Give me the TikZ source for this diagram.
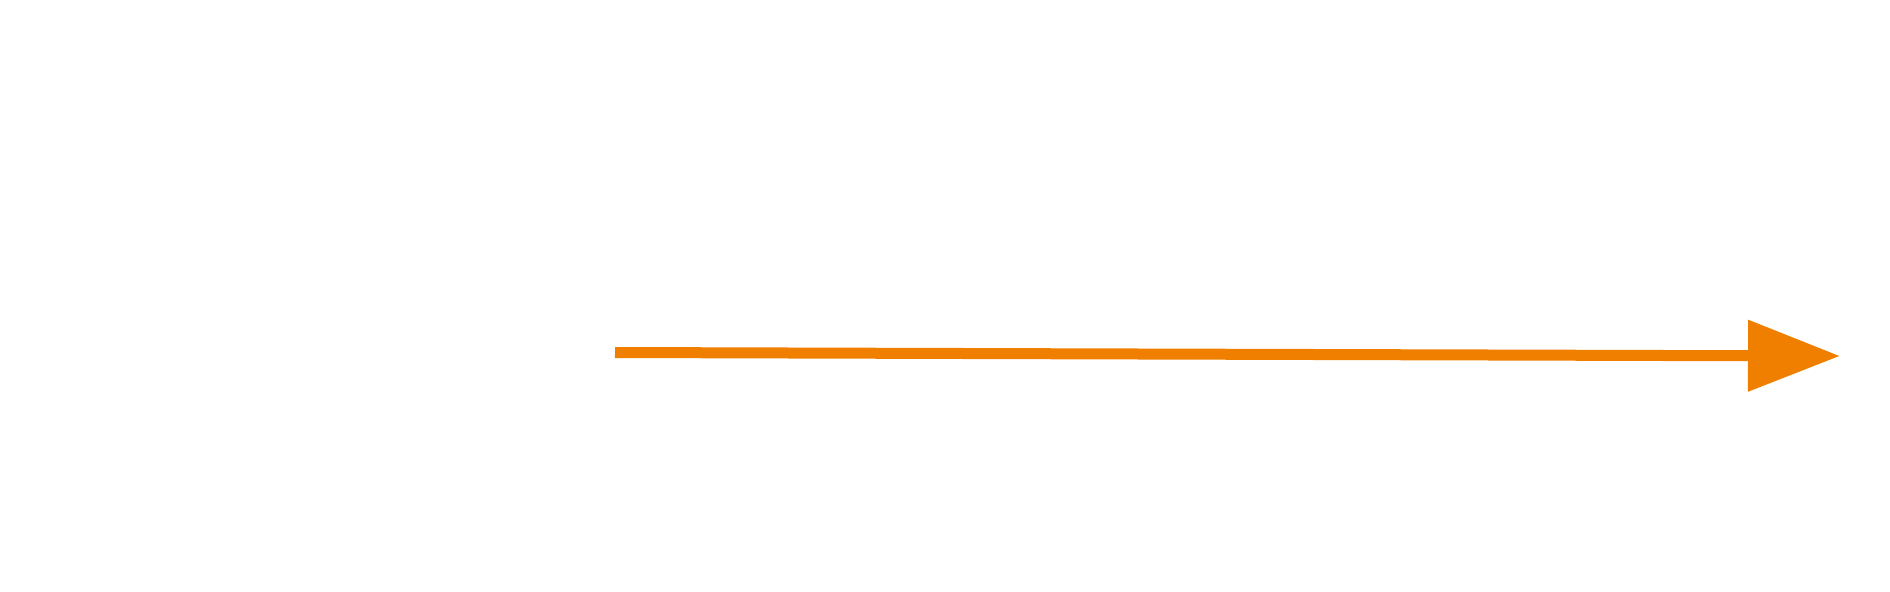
\documentclass[tikz,border=0pt]{standalone}
\usetikzlibrary{arrows.meta}
\definecolor{arroworange}{RGB}{240,127,0}
\begin{document}
\begin{tikzpicture}
	\useasboundingbox (0,0) rectangle (18.9,5.91);
	% Define the end points of the arrow
	\coordinate (src) at (6.15, 2.385);
	\coordinate (dst) at (18.40, 2.35);

	% Draw the arrow
	\draw[arroworange, line width=0.11cm, -{Triangle[length=0.92cm, width=0.69cm]}] (src) -- (dst);
\end{tikzpicture}
\end{document}
